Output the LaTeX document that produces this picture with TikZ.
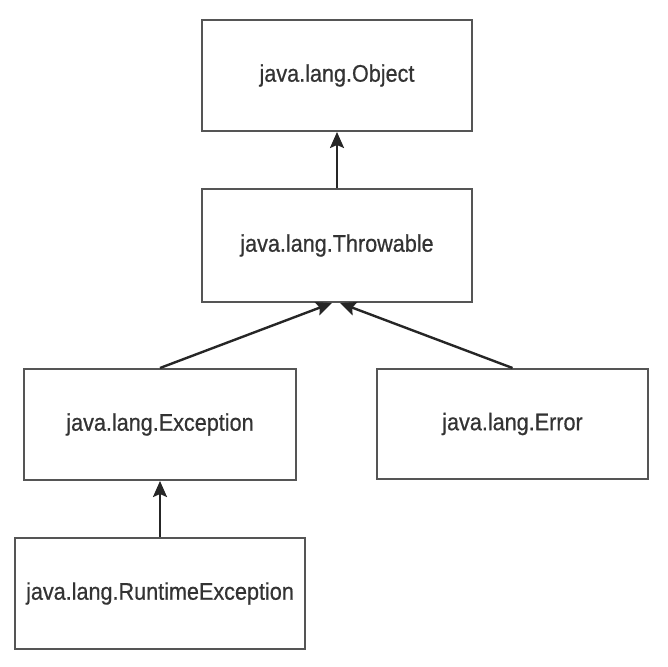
\documentclass[tikz,border=0pt]{standalone}
\usepackage{fontspec}
\setmainfont{Liberation Sans}[FakeStretch=0.9,FakeBold=0.6]
\usetikzlibrary{arrows.meta}
\definecolor{boxline}{HTML}{555555}
\definecolor{txt}{HTML}{333333}
\begin{document}
\begin{tikzpicture}[x=1pt,y=-1pt,
  cls/.style={draw=boxline,line width=2pt,rectangle,inner sep=0pt,
    text=txt,font=\fontsize{24}{28}\selectfont},
  inh/.style={draw=black!85,line width=2.4pt,-{Stealth[length=16pt,width=14pt,inset=3pt]}}]
\useasboundingbox (0,0) rectangle (668,666);
\node[cls,minimum width=270pt,minimum height=111pt] (obj) at (337,75.5) {java.lang.Object};
\node[cls,minimum width=270pt,minimum height=113pt] (thr) at (337,245.5) {java.lang.Throwable};
\node[cls,minimum width=272pt,minimum height=111pt] (exc) at (160,424.5) {java.lang.Exception};
\node[cls,minimum width=271pt,minimum height=110pt] (err) at (512.5,424) {java.lang.Error};
\node[cls,minimum width=290pt,minimum height=111pt] (rte) at (160,593.5) {java.lang.RuntimeException};
\draw[inh] (thr.north) -- (obj.south);
\draw[inh] (exc.north) -- ([xshift=-5pt]thr.south);
\draw[inh] (err.north) -- ([xshift=3pt]thr.south);
\draw[inh] (rte.north) -- (exc.south);
\end{tikzpicture}
\end{document}
